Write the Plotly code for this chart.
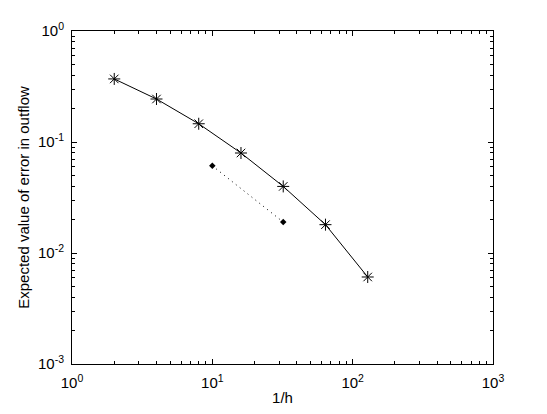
import plotly.graph_objects as go

# Data
inv_h = [2, 4, 8, 16, 32, 64, 128]
error_expected = [0.370, 0.244, 0.146, 0.0796, 0.0398, 0.0180, 0.00608]
ref_x = [10, 32]
ref_y = [0.061, 0.019]

x_major = [1, 10, 100, 1000]
x_labels = ["10<sup>0</sup>", "10<sup>1</sup>", "10<sup>2</sup>", "10<sup>3</sup>"]
y_major = [0.001, 0.01, 0.1, 1]
y_labels = ["10<sup>-3</sup>", "10<sup>-2</sup>", "10<sup>-1</sup>", "10<sup>0</sup>"]


def minor_vals(decades):
    vals = []
    for d in decades:
        for m in range(2, 10):
            vals.append(m * d)
    return vals


fig = go.Figure()
fig.add_trace(go.Scatter(
    x=inv_h, y=error_expected, mode="lines+markers",
    line=dict(color="black", width=1),
    marker=dict(symbol="asterisk-open", size=10, color="black",
                line=dict(color="black", width=1)),
    showlegend=False,
))
fig.add_trace(go.Scatter(
    x=ref_x, y=ref_y, mode="lines+markers",
    line=dict(color="black", width=1, dash="1px,4px"),
    marker=dict(symbol="diamond", size=5, color="black"),
    showlegend=False,
))

font = dict(family="Liberation Sans, Arial, sans-serif", size=15, color="black")

fig.update_xaxes(
    type="log", range=[0, 3], automargin=False,
    tickmode="array", tickvals=x_major, ticktext=x_labels,
    ticks="inside", ticklen=5, tickwidth=1, tickcolor="black",
    minor=dict(tickmode="array", tickvals=minor_vals([1, 10, 100]),
               ticks="inside", ticklen=3, tickwidth=1, tickcolor="black"),
    showline=True, linecolor="black", linewidth=1, mirror="ticks",
    showgrid=False, zeroline=False,
    ticklabelstandoff=5,
    title=dict(text="1/h", font=font, standoff=4),
    tickfont=font,
)
fig.update_yaxes(
    type="log", range=[-3, 0], automargin=False,
    tickmode="array", tickvals=y_major, ticktext=y_labels,
    ticks="inside", ticklen=5, tickwidth=1, tickcolor="black",
    minor=dict(tickmode="array", tickvals=minor_vals([0.001, 0.01, 0.1]),
               ticks="inside", ticklen=3, tickwidth=1, tickcolor="black"),
    showline=True, linecolor="black", linewidth=1, mirror="ticks",
    showgrid=False, zeroline=False,
    ticklabelstandoff=4,
    title=dict(text="Expected value of error in outflow", font=font, standoff=4),
    tickfont=font,
)
fig.update_layout(
    width=531, height=398,
    margin=dict(l=63.5, r=45.5, t=23, b=42),
    paper_bgcolor="white", plot_bgcolor="white",
    font=font,
)
fig.write_html("out.html")
